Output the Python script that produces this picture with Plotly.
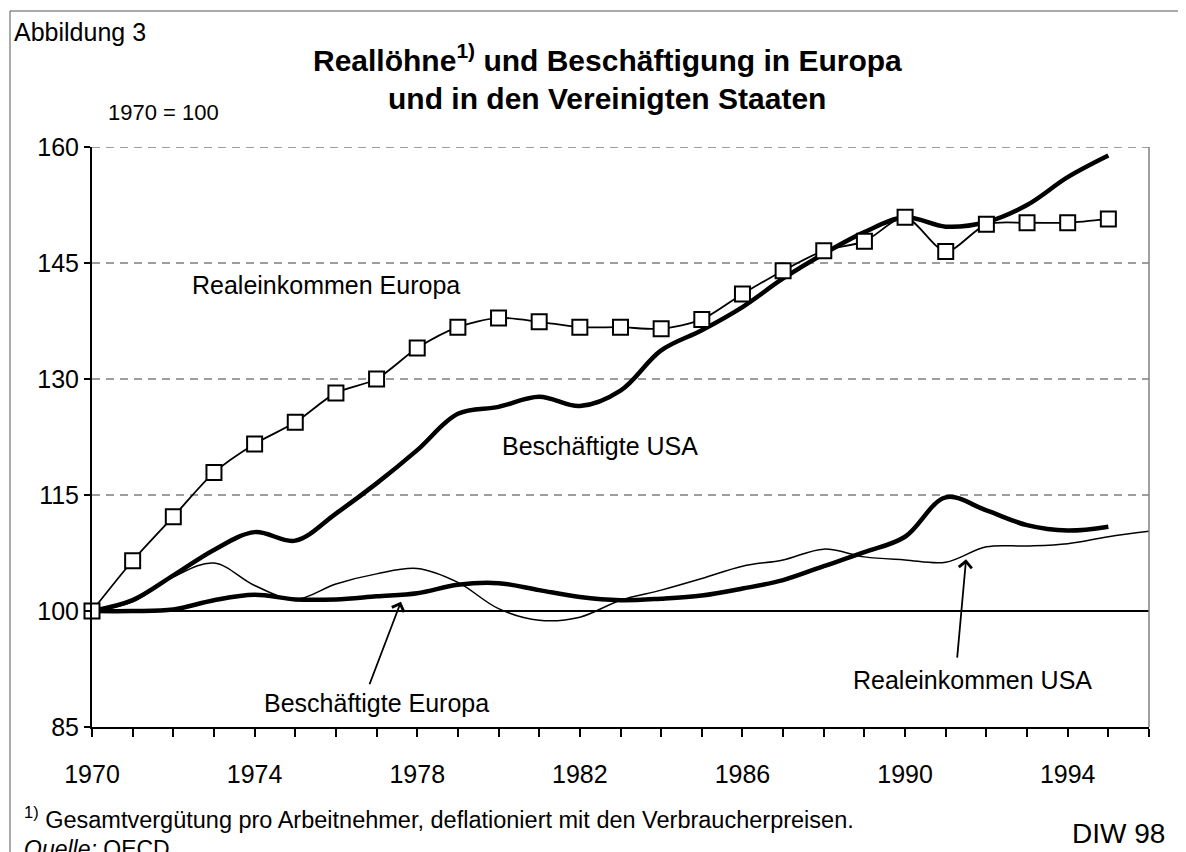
import plotly.graph_objects as go

# Jahre (Kategorien), 1970 = 100
years = list(range(1970, 1996))
years_usa_income = list(range(1970, 1997))

real_income_europe = [100.0, 106.5, 112.2, 117.9, 121.6, 124.4, 128.2, 130.0, 134.0, 136.7,
                      137.9, 137.4, 136.7, 136.7, 136.5, 137.7, 141.0, 144.0, 146.6, 147.8,
                      150.9, 146.5, 150.0, 150.2, 150.2, 150.7]
employment_usa = [100.0, 101.4, 104.6, 107.9, 110.2, 109.1, 112.6, 116.5, 120.8, 125.5,
                  126.4, 127.7, 126.5, 128.5, 133.7, 136.3, 139.3, 143.0, 146.2, 149.0,
                  150.9, 149.7, 150.3, 152.5, 156.1, 158.9]
real_income_usa = [100.0, 101.2, 104.4, 106.2, 103.3, 101.5, 103.5, 104.8, 105.5, 103.7,
                   100.3, 98.8, 99.2, 101.4, 102.7, 104.2, 105.8, 106.6, 108.0, 107.0,
                   106.6, 106.3, 108.3, 108.4, 108.7, 109.6, 110.3]
employment_europe = [100.0, 100.0, 100.2, 101.4, 102.1, 101.5, 101.5, 101.9, 102.3, 103.4,
                     103.6, 102.7, 101.8, 101.4, 101.6, 102.0, 102.9, 104.0, 105.8, 107.6,
                     109.6, 114.7, 113.0, 111.1, 110.4, 110.9]

x_tick_labels = ["1970", "1974", "1978", "1982", "1986", "1990", "1994"]
y_ticks = [85, 100, 115, 130, 145, 160]
BASE = 100

FONT = "Liberation Sans, Arial, sans-serif"
# Seite hat 8px Rand, Figur daher etwas kleiner
OFF = 8
W, H = 1178, 844
L, R, T, B = 84, 37, 139, 125


def px(x):
    # Seitenpixel -> paper
    return (x - OFF - L) / (W - L - R)


def py(y):
    return (H - B - (y - OFF)) / (H - T - B)


fig = go.Figure()

fig.add_trace(go.Scatter(x=years_usa_income, y=real_income_usa, mode="lines",
                         line=dict(color="black", width=1.5, shape="spline", smoothing=1)))
fig.add_trace(go.Scatter(x=years, y=employment_europe, mode="lines",
                         line=dict(color="black", width=4.5, shape="spline", smoothing=1)))
fig.add_trace(go.Scatter(x=years, y=employment_usa, mode="lines",
                         line=dict(color="black", width=4.5, shape="spline", smoothing=1)))
fig.add_trace(go.Scatter(x=years, y=real_income_europe, mode="lines+markers", cliponaxis=False,
                         line=dict(color="black", width=1.8, shape="spline", smoothing=0.8),
                         marker=dict(symbol="square", size=15, color="white",
                                     line=dict(color="black", width=2))))

# gestrichelte Gitterlinien oberhalb der Basis
for v in y_ticks:
    if v > BASE:
        fig.add_shape(type="line", xref="paper", yref="y", x0=0, x1=1, y0=v, y1=v,
                      line=dict(color="#7f7f7f", width=1.3, dash="8px,6px"), layer="below")
# Basislinie 100
fig.add_shape(type="line", xref="paper", yref="y", x0=0, x1=1, y0=BASE, y1=BASE,
              line=dict(color="black", width=2), layer="below")
# Rahmen rechts
fig.add_shape(type="line", xref="paper", yref="paper", x0=1, x1=1, y0=0, y1=1,
              line=dict(color="#808080", width=1.5))
# Bildrahmen
fig.add_shape(type="rect", xref="paper", yref="paper", x0=px(10), x1=px(1240),
              y0=py(900), y1=py(11), line=dict(color="#555555", width=1))

ann = []


def txt(x, y, s, size=25, anchor="left", **kw):
    ann.append(dict(x=px(x), y=py(y), xref="paper", yref="paper", text=s, showarrow=False,
                    xanchor=anchor, yanchor="middle", font=dict(family=FONT, size=size, color="black"), **kw))


txt(12, 32, "Abbildung 3", 25)
txt(607, 58, "<b>Reallöhne<sup>1)</sup> und Beschäftigung in Europa</b>", 30, "center")
txt(607, 98, "<b>und in den Vereinigten Staaten</b>", 30, "center")
txt(106, 112, "1970 = 100", 22)
txt(190, 285, "Realeinkommen Europa", 25)
txt(500, 446, "Beschäftigte USA", 25)
txt(262, 703, "Beschäftigte Europa", 25)
txt(851, 680, "Realeinkommen USA", 25)
txt(22, 818, "<sup>1)</sup> Gesamtvergütung pro Arbeitnehmer, deflationiert mit den Verbraucherpreisen.", 23.5)
txt(22, 849, "<i>Quelle:</i> OECD", 23)
txt(1167, 833, "DIW 98", 28, "right")

# Pfeile
ann.append(dict(x=1977.6, y=101.2, xref="x", yref="y", showarrow=True, arrowhead=4,
                arrowsize=1.4, arrowwidth=1.8, arrowcolor="black", text="", ax=-32, ay=84))
ann.append(dict(x=1991.5, y=106.7, xref="x", yref="y", showarrow=True, arrowhead=4,
                arrowsize=1.4, arrowwidth=1.8, arrowcolor="black", text="", ax=-9, ay=100))

fig.update_layout(
    width=W, height=H,
    margin=dict(l=L, r=R, t=T, b=B),
    paper_bgcolor="white", plot_bgcolor="white",
    showlegend=False,
    annotations=ann,
    font=dict(family=FONT, size=25, color="black"),
    xaxis=dict(range=[1970, 1996], tickvals=[int(t) for t in x_tick_labels], ticktext=x_tick_labels,
               ticks="outside", ticklen=8, tickwidth=1.5, tickcolor="black",
               minor=dict(dtick=1, tick0=1970, ticks="outside", ticklen=8, tickwidth=1.5, tickcolor="black"),
               showline=True, linecolor="black", linewidth=2, showgrid=False, zeroline=False,
               ticklabelstandoff=16, tickfont=dict(size=25)),
    yaxis=dict(range=[85, 160], tickvals=y_ticks, ticks="outside", ticklen=6, tickwidth=1.5,
               tickcolor="black", showline=True, linecolor="black", linewidth=2,
               showgrid=False, zeroline=False, tickfont=dict(size=25), ticklabelstandoff=0),
)

fig.write_html("out.html")
